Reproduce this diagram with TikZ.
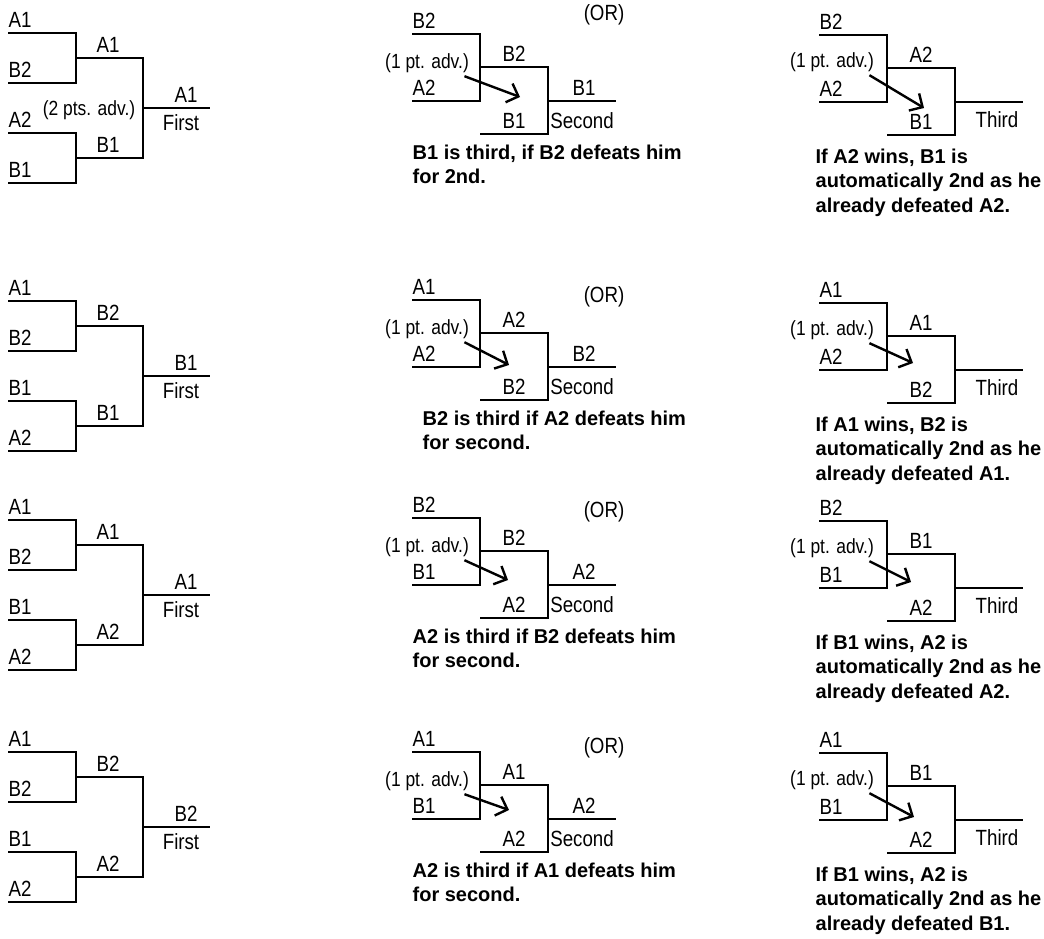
\documentclass[tikz,border=0pt]{standalone}
\usepackage{fontspec}
\setmainfont{Liberation Sans}
\newfontfamily\narrowsans[FakeStretch=0.85]{Liberation Sans}
\usetikzlibrary{arrows.meta}
\begin{document}
\begin{tikzpicture}[x=1pt, y=-1pt, line width=1.3pt,
  >={Straight Barb[length=10pt,width=20pt]},
  player/.style={inner xsep=0pt, inner ysep=4.5pt, font=\narrowsans\fontsize{22}{25}\selectfont},
  placing/.style={inner sep=0pt, font=\narrowsans\fontsize{22}{25}\selectfont},
  advnote/.style={inner sep=0pt, font=\narrowsans\fontsize{20.5}{23}\selectfont},
  remark/.style={inner sep=0pt, anchor=north west, align=left, font=\bfseries\fontsize{20}{24.5}\selectfont},
  pointer/.style={->, line width=2.4pt}]
  \useasboundingbox (0,0) rectangle (1044,939);
  \foreach \y/\a/\b/\c/\d/\p/\q/\w [count=\i] in {33/A1/B2/A2/B1/A1/B1/A1, 301/A1/B2/B1/A2/B2/B1/B1,
      520/A1/B2/B1/A2/A1/A2/A1, 752/A1/B2/B1/A2/B2/A2/B2}{
    \begin{scope}[shift={(8,\y)}]
      \draw (0,0) -- (68,0) -- (68,50) -- (0,50);
      \draw (0,100) -- (68,100) -- (68,150) -- (0,150);
      \draw (68,25) -- (135,25) -- (135,125) -- (68,125);
      \draw (135,75) -- (202,75);
      \node[player, above right] (L\i-a) at (0,0) {\a};
      \node[player, above right] (L\i-b) at (0,50) {\b};
      \node[player, above right] (L\i-c) at (0,100) {\c};
      \node[player, above right] (L\i-d) at (0,150) {\d};
      \node[player, above] (L\i-p) at (100,25) {\p};
      \node[player, above] (L\i-q) at (100,125) {\q};
      \node[player, above] (L\i-w) at (178,75) {\w};
      \node[placing, below=6pt] (L\i-first) at (173,75) {First};
    \end{scope}
  }
  \node[advnote] (twopts) at (89,110) {(2 pts. adv.)};
  \foreach \y/\a/\b/\p/\q/\w/\cx/\o/\tx/\ty/\note [count=\i] in {
      34/B2/A2/B2/B1/B1/0/-19/108/63/{B1 is third, if B2 defeats him\\for 2nd.},
      300/A1/A2/A2/B2/B2/10/-3/97/65/{B2 is third if A2 defeats him\\for second.},
      518/B2/B1/B2/A2/A2/0/-6/96/62/{A2 is third if B2 defeats him\\for second.},
      752/A1/B1/A1/A2/A2/0/-4/97/58/{A2 is third if A1 defeats him\\for second.}}{
    \begin{scope}[shift={(412,\y)}]
      \draw (0,0) -- (68,0) -- (68,67) -- (0,67);
      \draw (68,33) -- (136,33) -- (136,100) -- (68,100);
      \draw (136,67) -- (204,67);
      \node[player, above right] (M\i-a) at (0,0) {\a};
      \node[player, above right] (M\i-b) at (0,67) {\b};
      \node[player, above] (M\i-p) at (102,33) {\p};
      \node[player, above] (M\i-q) at (102,100) {\q};
      \node[player, above] (M\i-w) at (172,67) {\w};
      \node[placing, below=11pt] (M\i-second) at (170,67) {Second};
      \node[advnote] (M\i-adv) at (15,29) {(1 pt. adv.)};
      \coordinate (M\i-tip) at (\tx,\ty);
      \draw[pointer] ([xshift=-5pt,yshift=-3pt]M\i-adv.south east) -- (M\i-tip);
      \node[remark] (M\i-note) at (\cx,110) {\note};
      \node[placing] (M\i-or) at (192,\o) {(OR)};
    \end{scope}
  }
  \foreach \y/\a/\b/\p/\q/\tx/\ty/\note [count=\i] in {
      35/B2/A2/A2/B1/105/73/{If A2 wins, B1 is\\automatically 2nd as he\\already defeated A2.},
      303/A1/A2/A1/B2/94/60/{If A1 wins, B2 is\\automatically 2nd as he\\already defeated A1.},
      521/B2/B1/B1/A2/92/61/{If B1 wins, A2 is\\automatically 2nd as he\\already defeated A2.},
      753/A1/B1/B1/A2/95/64/{If B1 wins, A2 is\\automatically 2nd as he\\already defeated B1.}}{
    \begin{scope}[shift={(819,\y)}]
      \draw (0,0) -- (68,0) -- (68,67) -- (0,67);
      \draw (68,33) -- (136,33) -- (136,100) -- (68,100);
      \draw (136,67) -- (204,67);
      \node[player, above right] (R\i-a) at (0,0) {\a};
      \node[player, above right] (R\i-b) at (0,67) {\b};
      \node[player, above] (R\i-p) at (102,33) {\p};
      \node[player, above] (R\i-q) at (102,100) {\q};
      \node[placing, below=9pt] (R\i-third) at (178,67) {Third};
      \node[advnote] (R\i-adv) at (13,27) {(1 pt. adv.)};
      \coordinate (R\i-tip) at (\tx,\ty);
      \draw[pointer] ([xshift=-5pt,yshift=-3pt]R\i-adv.south east) -- (R\i-tip);
      \node[remark] (R\i-note) at (-4,113) {\note};
    \end{scope}
  }
\end{tikzpicture}
\end{document}
